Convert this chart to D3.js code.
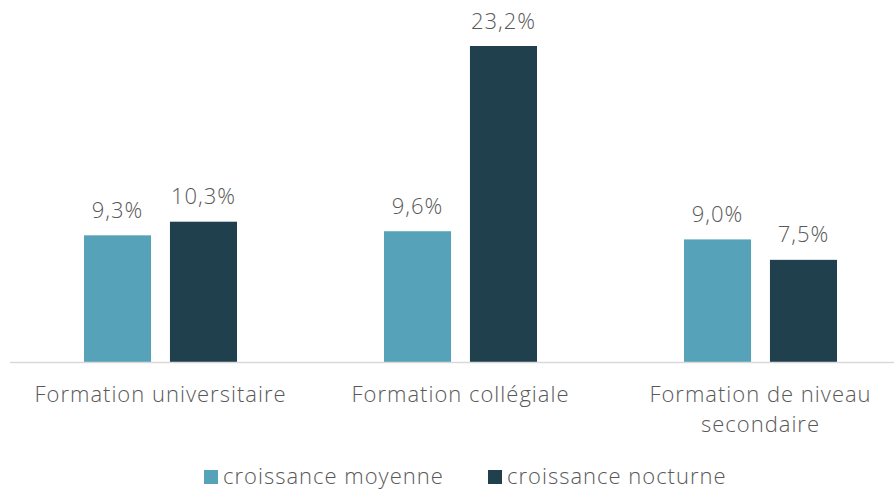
<!DOCTYPE html>
<html lang="fr">
<head>
    <meta charset="UTF-8">
    <title>Croissance par formation</title>
    <style>
        body {
            margin: 0;
            background: #fff;
            overflow: hidden;
        }
        text {
            font-family: "Open Sans", Lato, sans-serif;
            font-weight: 300;
            fill: #595959;
            letter-spacing: 1px;
        }
    </style>
</head>
<body>
    <svg id="chart" width="894" height="489"></svg>
    <script src="https://d3js.org/d3.v7.min.js"></script>
    <script>
        const categories = ["Formation universitaire", "Formation collégiale", "Formation de niveau secondaire"];
        const categoryLines = [["Formation universitaire"], ["Formation collégiale"], ["Formation de niveau", "secondaire"]];
        const seriesNames = ["croissance moyenne", "croissance nocturne"];
        const moyenne = [9.3, 9.6, 9.0];
        const nocturne = [10.3, 23.2, 7.5];
        const colors = ["#55a2b9", "#1f404c"];

        const svg = d3.select("#chart");
        const baseY = 362;

        const x = d3.scaleBand().domain(categories).range([10.5, 910.5]).paddingInner(0).paddingOuter(0);
        const xInner = d3.scaleBand().domain(seriesNames).range([73.5, 226.5]).paddingInner(0.22);
        const y = d3.scaleLinear().domain([0, 23.2]).range([baseY, 46]);

        const fmt = v => d3.format(".1f")(v).replace(".", ",") + "%";

        const rows = categories.map((c, i) => ({cat: c, values: [moyenne[i], nocturne[i]]}));

        const groups = svg.selectAll(".grp")
            .data(rows)
            .enter()
            .append("g")
            .attr("class", "grp")
            .attr("transform", d => `translate(${x(d.cat)},0)`);

        groups.selectAll("rect")
            .data(d => d.values.map((v, j) => ({name: seriesNames[j], v, j})))
            .enter()
            .append("rect")
            .attr("x", d => xInner(d.name))
            .attr("y", d => y(d.v))
            .attr("width", xInner.bandwidth())
            .attr("height", d => baseY - y(d.v))
            .attr("fill", d => colors[d.j]);

        groups.selectAll(".val")
            .data(d => d.values.map((v, j) => ({name: seriesNames[j], v, j})))
            .enter()
            .append("text")
            .attr("class", "val")
            .attr("x", d => xInner(d.name) + xInner.bandwidth() / 2)
            .attr("y", d => y(d.v) - 17.5)
            .attr("text-anchor", "middle")
            .attr("font-size", 22)
            .text(d => fmt(d.v));

        // axis line
        svg.append("line")
            .attr("x1", 10).attr("x2", 894)
            .attr("y1", baseY + 0.5).attr("y2", baseY + 0.5)
            .attr("stroke", "#d9d9d9")
            .attr("stroke-width", 1.5);

        // category labels
        const labs = svg.selectAll(".cat")
            .data(categories)
            .enter()
            .append("text")
            .attr("class", "cat")
            .attr("text-anchor", "middle")
            .attr("font-size", 22)
            .attr("x", d => x(d) + x.bandwidth() / 2)
            .attr("y", 402);
        labs.each(function (d, i) {
            d3.select(this).selectAll("tspan")
                .data(categoryLines[i])
                .enter()
                .append("tspan")
                .attr("x", x(d) + x.bandwidth() / 2)
                .attr("dy", (t, k) => k === 0 ? 0 : 29.5)
                .text(t => t);
        });

        // legend
        const legendX = [204, 488];
        const leg = svg.selectAll(".leg")
            .data(seriesNames)
            .enter()
            .append("g")
            .attr("class", "leg")
            .attr("transform", (d, i) => `translate(${legendX[i]},470)`);
        leg.append("rect")
            .attr("width", 14).attr("height", 14)
            .attr("fill", (d, i) => colors[i]);
        leg.append("text")
            .attr("x", 19).attr("y", 13.5)
            .attr("font-size", 22)
            .text(d => d);
    </script>
</body>
</html>
